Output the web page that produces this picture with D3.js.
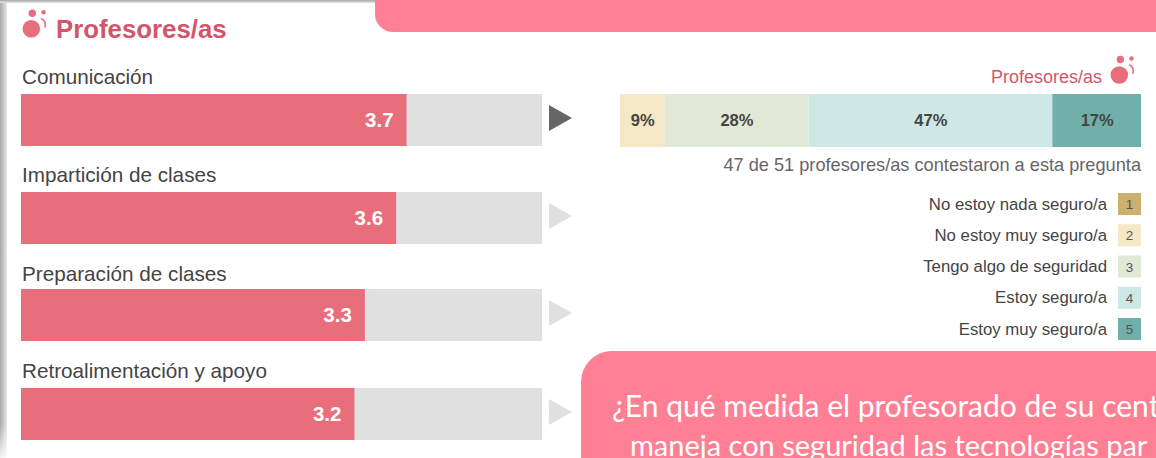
<!DOCTYPE html>
<html><head><meta charset="utf-8">
<script src="https://cdn.jsdelivr.net/npm/d3@7"></script>
<style>html,body{margin:0;padding:0;background:#fff;overflow:hidden}svg{display:block}text{font-family:"Liberation Sans",Arial,sans-serif}</style>
</head><body><svg id="c" width="1156" height="458"></svg>
<script>
const areas=["Comunicación","Impartición de clases","Preparación de clases","Retroalimentación y apoyo"];
const scores=[3.7,3.6,3.3,3.2];
const rowTops=[94,192,289,388];
const labelBaselines=[84,182,281,378];
const stackLabels=["1","2","3","4","5"];
const stackCounts=[0,4,13,22,8];
const stackColors=["#cdb06e","#f4e8c6","#e1e8d6","#cde8e5","#70b0a8"];
const legendLabels=["No estoy nada seguro/a","No estoy muy seguro/a","Tengo algo de seguridad","Estoy seguro/a","Estoy muy seguro/a"];
const scoreMax=5;
const note="47 de 51 profesores/as contestaron a esta pregunta";
const groupName="Profesores/as";
const calloutLines=["¿En qué medida el profesorado de su cent","maneja con seguridad las tecnologías par"];

const svg=d3.select("#c");
const defs=svg.append("defs");
const gl=defs.append("linearGradient").attr("id","sl");
gl.append("stop").attr("offset",0).attr("stop-color","#a8a8a8");
gl.append("stop").attr("offset",1).attr("stop-color","#e8e8e8");
const gt=defs.append("linearGradient").attr("id","st").attr("x1",0).attr("x2",0).attr("y1",0).attr("y2",1);
gt.append("stop").attr("offset",0).attr("stop-color","#a8a8a8");
gt.append("stop").attr("offset",1).attr("stop-color","#e8e8e8");
const gf=defs.append("linearGradient").attr("id","sf").attr("x1",0).attr("x2",0).attr("y1",0).attr("y2",1);
gf.append("stop").attr("offset",0).attr("stop-color","#fff").attr("stop-opacity",0);
gf.append("stop").attr("offset",1).attr("stop-color","#fff").attr("stop-opacity",0.85);
svg.append("rect").attr("width",1156).attr("height",458).attr("fill","#fff");
svg.append("rect").attr("x",0).attr("y",0).attr("width",7).attr("height",458).attr("fill","url(#sl)");
svg.append("rect").attr("x",0).attr("y",425).attr("width",7).attr("height",33).attr("fill","url(#sf)");
svg.append("rect").attr("x",0).attr("y",0).attr("width",380).attr("height",3).attr("fill","url(#st)");

const pink="#ff8095", bar="#e86e7c", titleC="#d2566a";
svg.append("path").attr("d","M375,0H1156V32H393A18,18 0 0 1 375,14Z").attr("fill",pink);
const callout=svg.append("g");
defs.append("clipPath").attr("id","cc").append("rect").attr("x",581).attr("y",351).attr("width",575).attr("height",107);
callout.append("path").attr("d","M1156,351H612A31,31 0 0 0 581,382V458H1156Z").attr("fill",pink);
callout.append("g").attr("clip-path","url(#cc)").selectAll("text").data(calloutLines).join("text")
  .attr("x",(d,i)=>i?630:612).attr("y",(d,i)=>i?456:417)
  .attr("font-size",(d,i)=>i?29:30).attr("fill","#fff").style("font-family","Lato").text(d=>d);

function icon(x,y){
  const g=svg.append("g").attr("transform",`translate(${x},${y})`);
  g.append("circle").attr("r",8.8).attr("fill",bar);
  g.append("circle").attr("cx",1).attr("cy",-15.5).attr("r",3.7).attr("fill",bar);
  g.append("circle").attr("cx",12.2).attr("cy",-16.5).attr("r",2.2).attr("fill",bar);
  g.append("path").attr("d","M9.7,-10.2A6.5,6.5 0 0 1 13.3,-1").attr("fill","none").attr("stroke",bar).attr("stroke-width",1.6);
}
icon(31.3,28.7);
svg.append("text").attr("x",56).attr("y",38).attr("font-size",25.8).attr("font-weight",700).attr("fill",titleC).text(groupName);

const x=d3.scaleLinear().domain([0,scoreMax]).range([21,542]);
const rows=svg.selectAll("g.row").data(areas.map((a,i)=>({a,v:scores[i],y:rowTops[i],i}))).join("g").attr("class","row");
rows.append("text").attr("x",22).attr("y",d=>labelBaselines[d.i]).attr("font-size",20.7).attr("fill","#444").text(d=>d.a);
rows.append("rect").attr("x",x(0)).attr("y",d=>d.y).attr("width",x(scoreMax)-x(0)).attr("height",52).attr("fill","#e0e0e0");
rows.append("rect").attr("x",x(0)).attr("y",d=>d.y).attr("width",d=>x(d.v)-x(0)).attr("height",52).attr("fill",bar);
rows.append("text").attr("x",d=>x(d.v)-13).attr("y",d=>d.y+33).attr("text-anchor","end").attr("font-size",20.5).attr("font-weight",700).attr("fill","#fff").text(d=>d3.format(".1f")(d.v));
rows.append("path").attr("d",d=>`M549,${d.y+11}L572,${d.y+24}L549,${d.y+37}Z`).attr("fill",d=>d.i===0?"#666":"#e0e0e0");

const total=d3.sum(stackCounts);
const sx=d3.scaleLinear().domain([0,total]).range([620,1141]);
let cum=0;
const segs=stackCounts.map((v,i)=>{const s={v,i,c0:cum};cum+=v;return s;});
const sg=svg.selectAll("g.seg").data(segs.filter(s=>s.v>0)).join("g").attr("class","seg");
sg.append("rect").attr("x",d=>sx(d.c0)).attr("y",94).attr("width",d=>sx(d.c0+d.v)-sx(d.c0)).attr("height",53).attr("fill",d=>stackColors[d.i]);
sg.append("text").attr("x",d=>sx(d.c0+d.v/2)+0.5).attr("y",126).attr("text-anchor","middle").attr("font-size",16.5).attr("font-weight",700).attr("fill","#444").text(d=>Math.round(d.v/total*100)+"%");

svg.append("text").attr("x",1102).attr("y",83).attr("text-anchor","end").attr("font-size",18).attr("fill",titleC).text(groupName);
icon(1119.3,75);
svg.append("text").attr("x",1141).attr("y",171).attr("text-anchor","end").attr("font-size",18.2).attr("fill","#666").text(note);

const ly=d3.scalePoint().domain(stackLabels).range([204,329]);
const lg=svg.selectAll("g.leg").data(stackLabels).join("g").attr("class","leg");
lg.append("text").attr("x",1107).attr("y",d=>ly(d)+5.5).attr("text-anchor","end").attr("font-size",16.8).attr("fill","#444").text((d,i)=>legendLabels[i]);
lg.append("rect").attr("x",1118).attr("y",d=>ly(d)-11).attr("width",23).attr("height",22).attr("fill",(d,i)=>stackColors[i]);
lg.append("text").attr("x",1129.5).attr("y",d=>ly(d)+5).attr("text-anchor","middle").attr("font-size",13.5).attr("fill","#555").text(d=>d);
</script></body></html>
